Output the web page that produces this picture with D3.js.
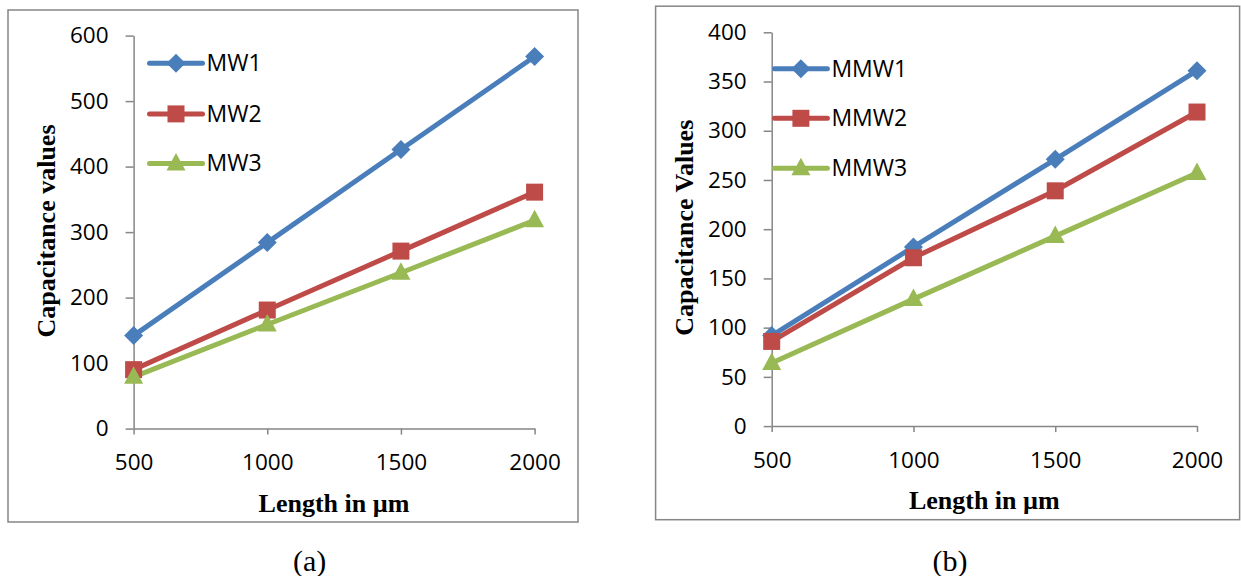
<!DOCTYPE html>
<html>
<head>
<meta charset="utf-8">
<script src="https://cdn.jsdelivr.net/npm/d3@7"></script>
<style>
  body { margin: 0; background: #fff; }
  svg { display: block; }
  .tick text { font-family: "Open Sans", sans-serif; font-size: 22.5px; fill: #000; }
  .leg { font-family: "Open Sans", sans-serif; font-size: 23px; fill: #000; }
  .ttl { font-family: "Liberation Serif", serif; font-size: 26px; font-weight: bold; fill: #000; }
  .cap { font-family: "Liberation Serif", serif; font-size: 30px; fill: #000; }
</style>
</head>
<body>
<svg id="chart" width="1241" height="576"></svg>
<script>
// x categories (length in um), shared by both panels
const lengths = ["500", "1000", "1500", "2000"];

// panel (a)
const mw1 = [142, 284, 426, 568];
const mw2 = [90, 181, 271, 361];
const mw3 = [79, 159, 238, 318];
const ticksA = [0, 100, 200, 300, 400, 500, 600];

// panel (b)
const mmw1 = [92, 182, 271, 361];
const mmw2 = [86, 171, 239, 319];
const mmw3 = [64, 129, 193, 257];
const ticksB = [0, 50, 100, 150, 200, 250, 300, 350, 400];

const colors = ["#4a7ebb", "#be4b48", "#98b954"];
const shapes = ["diamond", "square", "triangle"];
const axisGrey = "#868686";

const svg = d3.select("#chart");

// marker path for each shape, centred on 0,0
function markerPath(shape) {
  switch (shape) {
    case "diamond":
      return "M0,-9.5L9.5,0L0,9.5L-9.5,0Z";
    case "square":
      return "M-8.5,-8.5H8.5V8.5H-8.5Z";
    default:
      return "M0,-10.5L9.5,7L-9.5,7Z";
  }
}

function drawPanel(p) {
  // outer frame
  svg.append("rect")
    .attr("x", p.frame[0]).attr("y", p.frame[1])
    .attr("width", p.frame[2]).attr("height", p.frame[3])
    .attr("fill", "none")
    .attr("stroke", axisGrey)
    .attr("stroke-width", 1.5);

  const x = d3.scalePoint().domain(lengths).range([p.left, p.right]).padding(0);
  const y = d3.scaleLinear().domain([0, d3.max(p.ticks)]).range([p.bottom, p.top]);

  const g = svg.append("g");

  // y axis
  const ya = g.append("g")
    .attr("transform", `translate(${p.left},0)`)
    .call(d3.axisLeft(y).tickValues(p.ticks).tickSize(8).tickSizeOuter(0).tickPadding(17));
  // x axis
  const xa = g.append("g")
    .attr("transform", `translate(0,${p.bottom})`)
    .call(d3.axisBottom(x).tickSize(6).tickSizeOuter(0));
  xa.selectAll(".tick text").attr("y", 34).attr("dy", "0.35em");

  [ya, xa].forEach(a => {
    a.select(".domain").attr("stroke", axisGrey).attr("stroke-width", 1.5);
    a.selectAll(".tick line").attr("stroke", axisGrey).attr("stroke-width", 1.5);
    a.attr("font-family", null).attr("font-size", null);
  });

  // series lines and markers
  const line = d3.line()
    .x((d, i) => x(lengths[i]))
    .y(d => y(d));

  p.series.forEach((s, k) => {
    g.append("path")
      .datum(s)
      .attr("d", line)
      .attr("fill", "none")
      .attr("stroke", colors[k])
      .attr("stroke-width", 5)
      .attr("stroke-linejoin", "round")
      .attr("stroke-linecap", "round");
  });
  p.series.forEach((s, k) => {
    g.append("g")
      .selectAll("path")
      .data(s)
      .enter()
      .append("path")
      .attr("transform", (d, i) => `translate(${x(lengths[i])},${y(d)})`)
      .attr("d", markerPath(shapes[k]))
      .attr("fill", colors[k]);
  });

  // legend
  p.names.forEach((name, k) => {
    const ly = p.legY[k];
    const lg = svg.append("g");
    lg.append("line")
      .attr("x1", p.legX).attr("x2", p.legX + 53)
      .attr("y1", ly).attr("y2", ly)
      .attr("stroke", colors[k])
      .attr("stroke-width", 5)
      .attr("stroke-linecap", "round");
    lg.append("path")
      .attr("transform", `translate(${p.legX + 26.5},${ly})`)
      .attr("d", markerPath(shapes[k]))
      .attr("fill", colors[k]);
    lg.append("text")
      .attr("class", "leg")
      .attr("x", p.legX + 57)
      .attr("y", ly)
      .attr("dy", "0.35em")
      .text(name);
  });

  // axis titles
  svg.append("text")
    .attr("class", "ttl")
    .attr("x", p.xTitle[0]).attr("y", p.xTitle[1])
    .attr("text-anchor", "middle")
    .attr("dy", "0.35em")
    .text("Length in µm");
  svg.append("text")
    .attr("class", "ttl")
    .attr("transform", `translate(${p.yTitle[0]},${p.yTitle[1]}) rotate(-90)`)
    .attr("text-anchor", "middle")
    .attr("dy", "0.35em")
    .text(p.yLabel);

  // sub caption
  svg.append("text")
    .attr("class", "cap")
    .attr("x", p.caption[0]).attr("y", p.caption[1])
    .attr("text-anchor", "middle")
    .attr("dy", "0.35em")
    .text(p.captionText);
}

drawPanel({
  frame: [8, 10, 570, 512],
  left: 133.6, right: 534.6, top: 35.6, bottom: 428.6,
  ticks: ticksA,
  series: [mw1, mw2, mw3],
  names: ["MW1", "MW2", "MW3"],
  legX: 149.5, legY: [63.2, 113.9, 163.4],
  xTitle: [334, 503], yTitle: [45.5, 231],
  yLabel: "Capacitance values",
  caption: [309.6, 560], captionText: "(a)"
});

drawPanel({
  frame: [655.6, 6.2, 584, 513.5],
  left: 771.7, right: 1197, top: 32.3, bottom: 426.1,
  ticks: ticksB,
  series: [mmw1, mmw2, mmw3],
  names: ["MMW1", "MMW2", "MMW3"],
  legX: 774.4, legY: [68.7, 118.3, 168.2],
  xTitle: [984.3, 500.3], yTitle: [683.4, 227.7],
  yLabel: "Capacitance Values",
  caption: [949.9, 560], captionText: "(b)"
});
</script>
</body>
</html>
